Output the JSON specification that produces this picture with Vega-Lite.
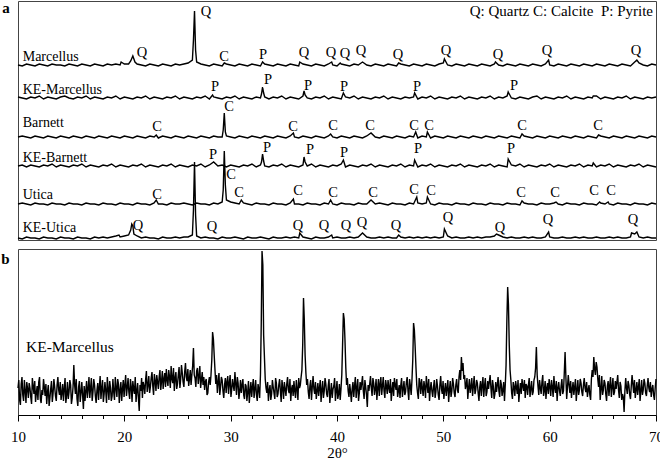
{
"$schema": "https://vega.github.io/schema/vega-lite/v6.json",
"padding": {"left": 0, "top": 0, "right": 0, "bottom": 0},
"spacing": 4,
"config": {"view": {"stroke": "#444", "strokeWidth": 1}, "font": "Liberation Serif, Times New Roman, DejaVu Serif, serif",
  "axis": {"labelOverlap": false, "labelFlush": false, "grid": false, "labelFont": "Liberation Serif, Times New Roman, DejaVu Serif, serif", "titleFont": "Liberation Serif, Times New Roman, DejaVu Serif, serif", "labelColor": "black", "titleColor": "black", "tickColor": "black", "domainColor": "black"}},
"datasets": {
"pa": [
{"x":10,"a":175,"b":143,"c":103,"d":74,"e":36,"f":2},
{"x":10.4,"a":174,"b":142,"c":104,"d":75,"e":37,"f":1},
{"x":10.8,"a":176,"b":141,"c":103,"d":73,"e":36,"f":3},
{"x":11.2,"a":175,"b":143,"c":102,"d":75,"e":35,"f":2},
{"x":11.6,"a":174,"b":142,"c":104,"d":74,"e":37,"f":2},
{"x":12,"a":176,"b":144,"c":103,"d":73,"e":36,"f":1},
{"x":12.4,"a":175,"b":141,"c":102,"d":75,"e":36,"f":3},
{"x":12.8,"a":174,"b":143,"c":104,"d":74,"e":35,"f":2},
{"x":13.2,"a":176,"b":142,"c":103,"d":76,"e":37,"f":2},
{"x":13.6,"a":175,"b":141,"c":102,"d":73,"e":36,"f":1},
{"x":14,"a":175,"b":143,"c":104,"d":75,"e":36,"f":3},
{"x":14.4,"a":174,"b":144,"c":103,"d":74,"e":35,"f":2},
{"x":14.8,"a":176,"b":142,"c":102,"d":73,"e":37,"f":2},
{"x":15.2,"a":175,"b":141,"c":104,"d":75,"e":36,"f":1},
{"x":15.6,"a":174,"b":143,"c":103,"d":74,"e":36,"f":3},
{"x":16,"a":176,"b":142,"c":102,"d":76,"e":35,"f":2},
{"x":16.4,"a":175,"b":144,"c":104,"d":73,"e":37,"f":2},
{"x":16.8,"a":174,"b":141,"c":103,"d":75,"e":36,"f":1},
{"x":17.2,"a":176,"b":143,"c":102,"d":74,"e":36,"f":3},
{"x":17.6,"a":175,"b":142,"c":104,"d":73,"e":35,"f":2},
{"x":18,"a":174,"b":141,"c":103,"d":75,"e":37,"f":3},
{"x":18.4,"a":176,"b":143,"c":102,"d":74,"e":36,"f":2},
{"x":18.8,"a":175,"b":142,"c":104,"d":76,"e":36,"f":3},
{"x":19.2,"a":176,"b":144,"c":103,"d":73,"e":35,"f":4},
{"x":19.6,"a":175,"b":141,"c":102,"d":75,"e":37,"f":3},
{"x":20,"a":176,"b":143,"c":104,"d":74,"e":36,"f":4},
{"x":20.4,"a":176,"b":142,"c":103,"d":73,"e":36,"f":5},
{"x":20.8,"a":184,"b":141,"c":102,"d":75,"e":35,"f":14},
{"x":21.2,"a":176,"b":143,"c":104,"d":74,"e":37,"f":4},
{"x":21.6,"a":175,"b":142,"c":103,"d":76,"e":36,"f":2},
{"x":22,"a":174,"b":144,"c":102,"d":73,"e":36,"f":3},
{"x":22.4,"a":176,"b":141,"c":104,"d":75,"e":35,"f":2},
{"x":22.8,"a":175,"b":143,"c":103,"d":74,"e":37,"f":2},
{"x":23.2,"a":174,"b":142,"c":102,"d":73,"e":36,"f":1},
{"x":23.6,"a":176,"b":141,"c":104,"d":75,"e":36,"f":3},
{"x":24,"a":175,"b":143,"c":103,"d":74,"e":35,"f":2},
{"x":24.4,"a":174,"b":142,"c":102,"d":76,"e":37,"f":2},
{"x":24.8,"a":176,"b":144,"c":104,"d":73,"e":36,"f":3},
{"x":25.2,"a":175,"b":141,"c":103,"d":75,"e":36,"f":2},
{"x":25.6,"a":176,"b":143,"c":102,"d":74,"e":37,"f":3},
{"x":26,"a":177,"b":142,"c":104,"d":73,"e":36,"f":3},
{"x":26.4,"a":180,"b":141,"c":103,"d":75,"e":35,"f":5},
{"x":26.8,"a":178,"b":143,"c":102,"d":74,"e":37,"f":4},
{"x":27.2,"a":176,"b":142,"c":104,"d":76,"e":36,"f":2},
{"x":27.6,"a":175,"b":144,"c":103,"d":73,"e":36,"f":3},
{"x":28,"a":174,"b":141,"c":102,"d":75,"e":35,"f":2},
{"x":28.4,"a":176,"b":143,"c":104,"d":78,"e":37,"f":2},
{"x":28.8,"a":175,"b":142,"c":103,"d":74,"e":36,"f":1},
{"x":29.2,"a":174,"b":141,"c":103,"d":75,"e":38,"f":3},
{"x":29.6,"a":176,"b":143,"c":104,"d":73,"e":40,"f":2},
{"x":30,"a":175,"b":142,"c":103,"d":75,"e":38,"f":2},
{"x":30.4,"a":174,"b":144,"c":102,"d":74,"e":37,"f":3},
{"x":30.8,"a":176,"b":141,"c":104,"d":73,"e":36,"f":2},
{"x":31.2,"a":175,"b":143,"c":103,"d":75,"e":37,"f":1},
{"x":31.6,"a":174,"b":142,"c":102,"d":74,"e":36,"f":3},
{"x":32,"a":176,"b":141,"c":104,"d":76,"e":35,"f":2},
{"x":32.4,"a":175,"b":143,"c":103,"d":73,"e":37,"f":2},
{"x":32.8,"a":174,"b":142,"c":102,"d":75,"e":36,"f":3},
{"x":33.2,"a":176,"b":143,"c":104,"d":74,"e":36,"f":2},
{"x":33.6,"a":175,"b":141,"c":103,"d":73,"e":35,"f":1},
{"x":34,"a":174,"b":143,"c":102,"d":75,"e":37,"f":3},
{"x":34.4,"a":176,"b":142,"c":104,"d":74,"e":36,"f":2},
{"x":34.8,"a":175,"b":144,"c":103,"d":76,"e":36,"f":2},
{"x":35.2,"a":174,"b":141,"c":102,"d":73,"e":35,"f":3},
{"x":35.6,"a":176,"b":143,"c":104,"d":75,"e":37,"f":2},
{"x":36,"a":175,"b":142,"c":103,"d":74,"e":36,"f":3},
{"x":36.4,"a":174,"b":141,"c":102,"d":73,"e":36,"f":2},
{"x":36.8,"a":176,"b":144,"c":104,"d":75,"e":35,"f":3},
{"x":37.2,"a":175,"b":142,"c":103,"d":74,"e":37,"f":2},
{"x":37.6,"a":174,"b":141,"c":102,"d":76,"e":36,"f":1},
{"x":38,"a":176,"b":143,"c":104,"d":73,"e":36,"f":3},
{"x":38.4,"a":175,"b":142,"c":103,"d":75,"e":35,"f":2},
{"x":38.8,"a":174,"b":144,"c":102,"d":74,"e":37,"f":2},
{"x":39.2,"a":176,"b":141,"c":104,"d":73,"e":36,"f":3},
{"x":39.6,"a":175,"b":143,"c":103,"d":75,"e":36,"f":2},
{"x":40,"a":174,"b":142,"c":102,"d":74,"e":35,"f":3},
{"x":40.4,"a":176,"b":141,"c":104,"d":76,"e":37,"f":2},
{"x":40.8,"a":175,"b":143,"c":103,"d":73,"e":36,"f":2},
{"x":41.2,"a":174,"b":142,"c":102,"d":75,"e":36,"f":3},
{"x":41.6,"a":176,"b":144,"c":104,"d":74,"e":35,"f":2},
{"x":42,"a":175,"b":141,"c":103,"d":73,"e":37,"f":3},
{"x":42.4,"a":178,"b":143,"c":102,"d":75,"e":36,"f":7},
{"x":42.8,"a":175,"b":142,"c":104,"d":74,"e":36,"f":3},
{"x":43.2,"a":174,"b":141,"c":107,"d":76,"e":40,"f":2},
{"x":43.6,"a":176,"b":143,"c":103,"d":73,"e":36,"f":2},
{"x":44,"a":175,"b":142,"c":102,"d":75,"e":37,"f":3},
{"x":44.4,"a":174,"b":144,"c":104,"d":74,"e":36,"f":2},
{"x":44.8,"a":176,"b":141,"c":103,"d":73,"e":35,"f":3},
{"x":45.2,"a":175,"b":143,"c":102,"d":75,"e":37,"f":2},
{"x":45.6,"a":174,"b":142,"c":104,"d":74,"e":36,"f":2},
{"x":46,"a":176,"b":141,"c":103,"d":76,"e":36,"f":3},
{"x":46.4,"a":175,"b":143,"c":102,"d":73,"e":35,"f":2},
{"x":46.8,"a":174,"b":142,"c":104,"d":75,"e":37,"f":3},
{"x":47.2,"a":176,"b":143,"c":103,"d":74,"e":36,"f":2},
{"x":47.6,"a":175,"b":141,"c":102,"d":73,"e":37,"f":3},
{"x":48,"a":174,"b":143,"c":104,"d":75,"e":36,"f":2},
{"x":48.4,"a":176,"b":142,"c":103,"d":74,"e":37,"f":3},
{"x":48.8,"a":175,"b":144,"c":102,"d":76,"e":36,"f":2},
{"x":49.2,"a":174,"b":141,"c":104,"d":73,"e":35,"f":3},
{"x":49.6,"a":176,"b":143,"c":103,"d":75,"e":37,"f":2},
{"x":50,"a":177,"b":142,"c":102,"d":74,"e":36,"f":3},
{"x":50.4,"a":175,"b":141,"c":104,"d":73,"e":36,"f":4},
{"x":50.8,"a":174,"b":143,"c":103,"d":75,"e":35,"f":2},
{"x":51.2,"a":176,"b":142,"c":102,"d":74,"e":37,"f":3},
{"x":51.6,"a":175,"b":144,"c":104,"d":76,"e":36,"f":2},
{"x":52,"a":174,"b":141,"c":103,"d":73,"e":36,"f":2},
{"x":52.4,"a":176,"b":143,"c":102,"d":75,"e":35,"f":3},
{"x":52.8,"a":175,"b":142,"c":104,"d":74,"e":37,"f":2},
{"x":53.2,"a":174,"b":141,"c":103,"d":73,"e":36,"f":3},
{"x":53.6,"a":176,"b":143,"c":102,"d":75,"e":36,"f":2},
{"x":54,"a":175,"b":142,"c":104,"d":74,"e":35,"f":3},
{"x":54.4,"a":174,"b":144,"c":103,"d":76,"e":37,"f":3},
{"x":54.8,"a":176,"b":141,"c":102,"d":73,"e":36,"f":4},
{"x":55.2,"a":175,"b":143,"c":104,"d":75,"e":36,"f":5},
{"x":55.6,"a":174,"b":142,"c":103,"d":74,"e":35,"f":3},
{"x":56,"a":176,"b":144,"c":102,"d":73,"e":37,"f":2},
{"x":56.4,"a":175,"b":142,"c":104,"d":75,"e":36,"f":3},
{"x":56.8,"a":174,"b":141,"c":103,"d":74,"e":36,"f":2},
{"x":57.2,"a":176,"b":143,"c":102,"d":76,"e":35,"f":2},
{"x":57.6,"a":175,"b":142,"c":104,"d":73,"e":37,"f":3},
{"x":58,"a":174,"b":141,"c":103,"d":75,"e":36,"f":2},
{"x":58.4,"a":176,"b":143,"c":102,"d":74,"e":36,"f":3},
{"x":58.8,"a":175,"b":144,"c":104,"d":73,"e":35,"f":2},
{"x":59.2,"a":174,"b":141,"c":103,"d":75,"e":37,"f":2},
{"x":59.6,"a":176,"b":143,"c":102,"d":74,"e":36,"f":3},
{"x":60,"a":175,"b":142,"c":104,"d":76,"e":36,"f":3},
{"x":60.4,"a":174,"b":141,"c":103,"d":73,"e":37,"f":2},
{"x":60.8,"a":176,"b":143,"c":102,"d":75,"e":36,"f":2},
{"x":61.2,"a":175,"b":142,"c":104,"d":74,"e":35,"f":3},
{"x":61.6,"a":174,"b":144,"c":103,"d":73,"e":37,"f":2},
{"x":62,"a":176,"b":141,"c":102,"d":75,"e":36,"f":2},
{"x":62.4,"a":175,"b":143,"c":104,"d":74,"e":36,"f":3},
{"x":62.8,"a":174,"b":142,"c":103,"d":76,"e":35,"f":2},
{"x":63.2,"a":176,"b":141,"c":102,"d":73,"e":37,"f":3},
{"x":63.6,"a":175,"b":143,"c":104,"d":75,"e":36,"f":2},
{"x":64,"a":174,"b":142,"c":103,"d":74,"e":36,"f":2},
{"x":64.4,"a":176,"b":144,"c":102,"d":73,"e":35,"f":3},
{"x":64.8,"a":175,"b":141,"c":104,"d":75,"e":37,"f":2},
{"x":65.2,"a":174,"b":143,"c":103,"d":74,"e":36,"f":2},
{"x":65.6,"a":176,"b":142,"c":102,"d":76,"e":36,"f":3},
{"x":66,"a":175,"b":141,"c":104,"d":73,"e":35,"f":2},
{"x":66.4,"a":174,"b":143,"c":103,"d":75,"e":37,"f":3},
{"x":66.8,"a":176,"b":142,"c":102,"d":74,"e":36,"f":2},
{"x":67.2,"a":175,"b":144,"c":104,"d":73,"e":36,"f":2},
{"x":67.6,"a":174,"b":141,"c":103,"d":75,"e":35,"f":3},
{"x":68,"a":178,"b":143,"c":102,"d":74,"e":37,"f":6},
{"x":68.4,"a":177,"b":142,"c":104,"d":76,"e":36,"f":3},
{"x":68.8,"a":175,"b":141,"c":103,"d":73,"e":36,"f":2},
{"x":69.2,"a":174,"b":143,"c":102,"d":75,"e":35,"f":3},
{"x":69.6,"a":176,"b":142,"c":104,"d":74,"e":37,"f":2},
{"x":70,"a":175,"b":143,"c":103,"d":73,"e":36,"f":2},
{"x":19.5,"f":5},
{"x":19.7,"a":178},
{"x":20.6,"a":179,"f":10},
{"x":20.7,"f":16},
{"x":20.9,"f":6},
{"x":21,"a":178},
{"x":23,"c":105,"e":40},
{"x":26.5,"a":200,"f":30},
{"x":26.6,"a":229,"f":78},
{"x":26.7,"a":190,"f":25},
{"x":28.3,"b":145},
{"x":29.3,"c":110,"e":50},
{"x":29.4,"a":177,"c":127,"e":89},
{"x":29.5,"c":108,"e":55},
{"x":31,"e":40},
{"x":32.9,"b":146,"d":78},
{"x":33,"a":178,"b":153,"d":86},
{"x":33.1,"b":147,"d":79},
{"x":35.9,"c":107,"e":41},
{"x":36.5,"a":178,"f":7},
{"x":36.9,"b":149,"d":83},
{"x":37,"b":145,"d":78},
{"x":39.4,"c":106,"e":40},
{"x":39.5,"a":178,"f":5},
{"x":40.3,"a":177},
{"x":40.6,"b":147,"d":80},
{"x":45.8,"a":177,"f":5},
{"x":47.3,"b":147,"d":80},
{"x":47.4,"c":108},
{"x":47.5,"e":43},
{"x":48.5,"c":108,"e":43},
{"x":50.1,"a":181,"f":11},
{"x":54.9,"a":178},
{"x":55,"f":6},
{"x":56.1,"b":148,"d":81},
{"x":57.4,"c":106,"e":39},
{"x":59.9,"a":180,"f":8},
{"x":60.6,"e":38},
{"x":64.1,"b":144,"d":77},
{"x":64.6,"c":105},
{"x":64.7,"e":38},
{"x":65.5,"e":38},
{"x":67.7,"f":7},
{"x":68.2,"a":180,"f":8}
],
"pl": [
{"x":21.66,"y":187,"t":"Q"},{"x":27.68,"y":228,"t":"Q"},{"x":29.37,"y":183,"t":"C"},{"x":33.04,"y":185,"t":"P"},{"x":36.9,"y":187,"t":"Q"},{"x":39.44,"y":187,"t":"Q"},{"x":40.75,"y":186,"t":"Q"},{"x":42.26,"y":189,"t":"Q"},{"x":45.74,"y":185,"t":"Q"},{"x":50.25,"y":189,"t":"Q"},{"x":55.14,"y":185,"t":"Q"},{"x":59.75,"y":189,"t":"Q"},{"x":68.12,"y":189,"t":"Q"},
{"x":28.53,"y":153,"t":"P"},{"x":33.51,"y":160,"t":"P"},{"x":37.27,"y":154,"t":"P"},{"x":40.66,"y":153,"t":"P"},{"x":47.52,"y":153,"t":"P"},{"x":56.65,"y":154,"t":"P"},
{"x":23.07,"y":113,"t":"C"},{"x":29.84,"y":133,"t":"C"},{"x":35.86,"y":113,"t":"C"},{"x":39.62,"y":114,"t":"C"},{"x":43.1,"y":114,"t":"C"},{"x":47.24,"y":114,"t":"C"},{"x":48.65,"y":114,"t":"C"},{"x":57.4,"y":114,"t":"C"},{"x":64.55,"y":114,"t":"C"},
{"x":28.34,"y":85,"t":"P"},{"x":33.42,"y":92,"t":"P"},{"x":37.46,"y":90,"t":"P"},{"x":40.66,"y":87,"t":"P"},{"x":47.62,"y":91,"t":"P"},{"x":56.36,"y":91,"t":"P"},
{"x":23.07,"y":45,"t":"C"},{"x":30.03,"y":65,"t":"C"},{"x":30.78,"y":47,"t":"C"},{"x":36.33,"y":49,"t":"C"},{"x":39.62,"y":47,"t":"C"},{"x":43.39,"y":47,"t":"C"},{"x":47.24,"y":50,"t":"C"},{"x":48.84,"y":49,"t":"C"},{"x":57.3,"y":47,"t":"C"},{"x":60.5,"y":47,"t":"C"},{"x":64.17,"y":49,"t":"C"},{"x":65.77,"y":49,"t":"C"},
{"x":21.29,"y":14,"t":"Q"},{"x":28.24,"y":13,"t":"Q"},{"x":36.33,"y":14,"t":"Q"},{"x":38.78,"y":14,"t":"Q"},{"x":40.85,"y":14,"t":"Q"},{"x":42.35,"y":17,"t":"Q"},{"x":45.55,"y":14,"t":"Q"},{"x":50.44,"y":22,"t":"Q"},{"x":55.33,"y":12,"t":"Q"},{"x":59.84,"y":20,"t":"Q"},{"x":67.84,"y":20,"t":"Q"}
],
"nm": [
{"x":10.44,"y":183,"t":"Marcellus"},{"x":10.44,"y":150,"t":"KE-Marcellus"},{"x":10.44,"y":117,"t":"Barnett"},{"x":10.44,"y":82,"t":"KE-Barnett"},{"x":10.44,"y":45,"t":"Utica"},{"x":10.44,"y":12,"t":"KE-Utica"}
],
"pb": [
{"x":10,"y":27},{"x":10.15,"y":15},{"x":10.3,"y":31},{"x":10.45,"y":20},{"x":10.6,"y":35},{"x":10.75,"y":12},{"x":10.9,"y":26},{"x":11.05,"y":32},{"x":11.2,"y":18},{"x":11.35,"y":37},{"x":11.5,"y":21},{"x":11.65,"y":13},{"x":11.8,"y":29},{"x":11.95,"y":33},{"x":12.1,"y":16},{"x":12.25,"y":25},{"x":12.4,"y":36},{"x":12.55,"y":19},{"x":12.7,"y":11},{"x":12.85,"y":30},
{"x":13,"y":17},{"x":13.15,"y":34},{"x":13.3,"y":22},{"x":13.45,"y":28},{"x":13.6,"y":14},{"x":13.75,"y":38},{"x":13.9,"y":20},{"x":14.05,"y":15},{"x":14.2,"y":31},{"x":14.35,"y":26},{"x":14.5,"y":12},{"x":14.65,"y":33},{"x":14.8,"y":23},{"x":14.95,"y":30},{"x":15.1,"y":17},{"x":15.25,"y":50},{"x":15.4,"y":21},{"x":15.55,"y":16},{"x":15.7,"y":28},{"x":15.85,"y":13},
{"x":16,"y":33},{"x":16.15,"y":6},{"x":16.3,"y":14},{"x":16.45,"y":34},{"x":16.6,"y":26},{"x":16.75,"y":17},{"x":16.9,"y":37},{"x":17.05,"y":23},{"x":17.2,"y":30},{"x":17.35,"y":12},{"x":17.5,"y":32},{"x":17.65,"y":28},{"x":17.8,"y":16},{"x":17.95,"y":35},{"x":18.1,"y":21},{"x":18.25,"y":24},{"x":18.4,"y":38},{"x":18.55,"y":15},{"x":18.7,"y":27},{"x":18.85,"y":19},
{"x":19,"y":23},{"x":19.15,"y":38},{"x":19.3,"y":18},{"x":19.45,"y":31},{"x":19.6,"y":25},{"x":19.75,"y":14},{"x":19.9,"y":35},{"x":20.05,"y":30},{"x":20.2,"y":19},{"x":20.35,"y":37},{"x":20.5,"y":16},{"x":20.65,"y":28},{"x":20.8,"y":34},{"x":20.95,"y":21},{"x":21.1,"y":13},{"x":21.25,"y":32},{"x":21.4,"y":4},{"x":21.55,"y":24},{"x":21.7,"y":17},{"x":21.85,"y":29},
{"x":22,"y":35},{"x":22.15,"y":23},{"x":22.3,"y":39},{"x":22.45,"y":28},{"x":22.6,"y":43},{"x":22.75,"y":20},{"x":22.9,"y":34},{"x":23.05,"y":40},{"x":23.2,"y":26},{"x":23.35,"y":45},{"x":23.5,"y":34},{"x":23.65,"y":26},{"x":23.8,"y":42},{"x":23.95,"y":46},{"x":24.1,"y":29},{"x":24.25,"y":38},{"x":24.4,"y":49},{"x":24.55,"y":32},{"x":24.7,"y":24},{"x":24.85,"y":43},
{"x":25,"y":31},{"x":25.15,"y":48},{"x":25.3,"y":36},{"x":25.45,"y":42},{"x":25.6,"y":28},{"x":25.75,"y":52},{"x":25.9,"y":34},{"x":26.05,"y":29},{"x":26.2,"y":45},{"x":26.35,"y":40},{"x":26.5,"y":67},{"x":26.65,"y":37},{"x":26.8,"y":44},{"x":26.95,"y":31},{"x":27.1,"y":49},{"x":27.25,"y":35},{"x":27.4,"y":30},{"x":27.55,"y":25},{"x":27.7,"y":36},{"x":27.85,"y":22},
{"x":28,"y":38},{"x":28.15,"y":40},{"x":28.3,"y":83},{"x":28.45,"y":60},{"x":28.6,"y":31},{"x":28.75,"y":22},{"x":28.9,"y":42},{"x":29.05,"y":28},{"x":29.2,"y":35},{"x":29.35,"y":17},{"x":29.5,"y":37},{"x":29.65,"y":33},{"x":29.8,"y":21},{"x":29.95,"y":40},{"x":30.1,"y":26},{"x":30.25,"y":29},{"x":30.4,"y":43},{"x":30.55,"y":20},{"x":30.7,"y":32},{"x":30.85,"y":24},
{"x":31,"y":22},{"x":31.15,"y":36},{"x":31.3,"y":16},{"x":31.45,"y":29},{"x":31.6,"y":23},{"x":31.75,"y":12},{"x":31.9,"y":33},{"x":32.05,"y":28},{"x":32.2,"y":17},{"x":32.35,"y":35},{"x":32.5,"y":14},{"x":32.65,"y":26},{"x":32.8,"y":40},{"x":32.95,"y":164},{"x":33.1,"y":80},{"x":33.25,"y":36},{"x":33.4,"y":22},{"x":33.55,"y":14},{"x":33.7,"y":30},{"x":33.85,"y":21},
{"x":34,"y":28},{"x":34.15,"y":16},{"x":34.3,"y":32},{"x":34.45,"y":21},{"x":34.6,"y":36},{"x":34.75,"y":13},{"x":34.9,"y":27},{"x":35.05,"y":33},{"x":35.2,"y":19},{"x":35.35,"y":38},{"x":35.5,"y":22},{"x":35.65,"y":14},{"x":35.8,"y":30},{"x":35.95,"y":34},{"x":36.1,"y":17},{"x":36.25,"y":26},{"x":36.4,"y":37},{"x":36.55,"y":30},{"x":36.7,"y":45},{"x":36.85,"y":117},
{"x":37,"y":60},{"x":37.15,"y":30},{"x":37.3,"y":23},{"x":37.45,"y":29},{"x":37.6,"y":15},{"x":37.75,"y":39},{"x":37.9,"y":21},{"x":38.05,"y":16},{"x":38.2,"y":32},{"x":38.35,"y":27},{"x":38.5,"y":13},{"x":38.65,"y":34},{"x":38.8,"y":24},{"x":38.95,"y":31},{"x":39.1,"y":18},{"x":39.25,"y":36},{"x":39.4,"y":22},{"x":39.55,"y":17},{"x":39.7,"y":29},{"x":39.85,"y":14},
{"x":40,"y":34},{"x":40.15,"y":21},{"x":40.3,"y":15},{"x":40.45,"y":40},{"x":40.6,"y":102},{"x":40.75,"y":75},{"x":40.9,"y":30},{"x":41.05,"y":24},{"x":41.2,"y":31},{"x":41.35,"y":13},{"x":41.5,"y":33},{"x":41.65,"y":29},{"x":41.8,"y":17},{"x":41.95,"y":36},{"x":42.1,"y":22},{"x":42.25,"y":25},{"x":42.4,"y":39},{"x":42.55,"y":16},{"x":42.7,"y":28},{"x":42.85,"y":8},
{"x":43,"y":24},{"x":43.15,"y":39},{"x":43.3,"y":19},{"x":43.45,"y":32},{"x":43.6,"y":26},{"x":43.75,"y":15},{"x":43.9,"y":36},{"x":44.05,"y":31},{"x":44.2,"y":20},{"x":44.35,"y":38},{"x":44.5,"y":17},{"x":44.65,"y":29},{"x":44.8,"y":35},{"x":44.95,"y":22},{"x":45.1,"y":14},{"x":45.25,"y":33},{"x":45.4,"y":37},{"x":45.55,"y":25},{"x":45.7,"y":18},{"x":45.85,"y":30},
{"x":46,"y":30},{"x":46.15,"y":18},{"x":46.3,"y":34},{"x":46.45,"y":23},{"x":46.6,"y":38},{"x":46.75,"y":15},{"x":46.9,"y":29},{"x":47.05,"y":35},{"x":47.2,"y":92},{"x":47.35,"y":68},{"x":47.5,"y":30},{"x":47.65,"y":16},{"x":47.8,"y":32},{"x":47.95,"y":36},{"x":48.1,"y":19},{"x":48.25,"y":28},{"x":48.4,"y":39},{"x":48.55,"y":22},{"x":48.7,"y":14},{"x":48.85,"y":33},
{"x":49,"y":18},{"x":49.15,"y":35},{"x":49.3,"y":23},{"x":49.45,"y":29},{"x":49.6,"y":15},{"x":49.75,"y":39},{"x":49.9,"y":21},{"x":50.05,"y":16},{"x":50.2,"y":32},{"x":50.35,"y":27},{"x":50.5,"y":13},{"x":50.65,"y":34},{"x":50.8,"y":24},{"x":50.95,"y":31},{"x":51.1,"y":18},{"x":51.25,"y":36},{"x":51.4,"y":22},{"x":51.55,"y":45},{"x":51.7,"y":58},{"x":51.85,"y":52},
{"x":52,"y":40},{"x":52.15,"y":30},{"x":52.3,"y":16},{"x":52.45,"y":36},{"x":52.6,"y":28},{"x":52.75,"y":19},{"x":52.9,"y":39},{"x":53.05,"y":25},{"x":53.2,"y":32},{"x":53.35,"y":14},{"x":53.5,"y":34},{"x":53.65,"y":30},{"x":53.8,"y":18},{"x":53.95,"y":37},{"x":54.1,"y":23},{"x":54.25,"y":26},{"x":54.4,"y":40},{"x":54.55,"y":17},{"x":54.7,"y":29},{"x":54.85,"y":21},
{"x":55,"y":23},{"x":55.15,"y":38},{"x":55.3,"y":18},{"x":55.45,"y":31},{"x":55.6,"y":25},{"x":55.75,"y":14},{"x":55.9,"y":50},{"x":56.05,"y":128},{"x":56.2,"y":70},{"x":56.35,"y":35},{"x":56.5,"y":16},{"x":56.65,"y":28},{"x":56.8,"y":34},{"x":56.95,"y":21},{"x":57.1,"y":13},{"x":57.25,"y":32},{"x":57.4,"y":36},{"x":57.55,"y":24},{"x":57.7,"y":17},{"x":57.85,"y":29},
{"x":58,"y":30},{"x":58.15,"y":18},{"x":58.3,"y":34},{"x":58.45,"y":23},{"x":58.6,"y":38},{"x":58.75,"y":68},{"x":58.9,"y":29},{"x":59.05,"y":35},{"x":59.2,"y":21},{"x":59.35,"y":40},{"x":59.5,"y":24},{"x":59.65,"y":16},{"x":59.8,"y":32},{"x":59.95,"y":36},{"x":60.1,"y":19},{"x":60.25,"y":28},{"x":60.4,"y":39},{"x":60.55,"y":22},{"x":60.7,"y":14},{"x":60.85,"y":33},
{"x":61,"y":19},{"x":61.15,"y":36},{"x":61.3,"y":24},{"x":61.45,"y":63},{"x":61.6,"y":16},{"x":61.75,"y":40},{"x":61.9,"y":22},{"x":62.05,"y":17},{"x":62.2,"y":33},{"x":62.35,"y":28},{"x":62.5,"y":14},{"x":62.65,"y":35},{"x":62.8,"y":25},{"x":62.95,"y":32},{"x":63.1,"y":19},{"x":63.25,"y":37},{"x":63.4,"y":23},{"x":63.55,"y":18},{"x":63.7,"y":30},{"x":63.85,"y":15},
{"x":64,"y":45},{"x":64.15,"y":58},{"x":64.3,"y":40},{"x":64.45,"y":48},{"x":64.6,"y":28},{"x":64.75,"y":15},{"x":64.9,"y":39},{"x":65.05,"y":25},{"x":65.2,"y":32},{"x":65.35,"y":14},{"x":65.5,"y":34},{"x":65.65,"y":30},{"x":65.8,"y":18},{"x":65.95,"y":37},{"x":66.1,"y":23},{"x":66.25,"y":26},{"x":66.4,"y":40},{"x":66.55,"y":17},{"x":66.7,"y":29},{"x":66.85,"y":21},
{"x":67,"y":3},{"x":67.15,"y":37},{"x":67.3,"y":21},{"x":67.45,"y":30},{"x":67.6,"y":16},{"x":67.75,"y":40},{"x":67.9,"y":22},{"x":68.05,"y":17},{"x":68.2,"y":33},{"x":68.35,"y":28},{"x":68.5,"y":14},{"x":68.65,"y":35},{"x":68.8,"y":25},{"x":68.95,"y":32},{"x":69.1,"y":19},{"x":69.25,"y":37},{"x":69.4,"y":23},{"x":69.55,"y":18},{"x":69.7,"y":30},{"x":69.85,"y":15},{"x":70,"y":36},
{"x":10.075,"y":35},{"x":10.225,"y":10},{"x":10.375,"y":38},{"x":10.525,"y":14},{"x":10.675,"y":24},{"x":10.825,"y":33},{"x":10.975,"y":17},{"x":11.125,"y":27},{"x":11.275,"y":11},{"x":11.425,"y":29},{"x":11.575,"y":34},{"x":11.725,"y":22},{"x":11.875,"y":15},{"x":12.025,"y":38},{"x":12.175,"y":12},{"x":12.325,"y":20},{"x":12.475,"y":28},{"x":12.625,"y":31},{"x":12.775,"y":23},{"x":12.925,"y":9},
{"x":13.075,"y":26},{"x":13.225,"y":13},{"x":13.375,"y":36},{"x":13.525,"y":19},{"x":13.675,"y":30},{"x":13.825,"y":25},{"x":13.975,"y":33},{"x":14.125,"y":22},{"x":14.275,"y":14},{"x":14.425,"y":37},{"x":14.575,"y":20},{"x":14.725,"y":16},{"x":14.875,"y":35},{"x":15.025,"y":11},{"x":15.175,"y":28},{"x":15.325,"y":30},{"x":15.475,"y":36},{"x":15.625,"y":9},{"x":15.775,"y":34},{"x":15.925,"y":22},
{"x":16.075,"y":20},{"x":16.225,"y":29},{"x":16.375,"y":24},{"x":16.525,"y":17},{"x":16.675,"y":38},{"x":16.825,"y":27},{"x":16.975,"y":14},{"x":17.125,"y":36},{"x":17.275,"y":19},{"x":17.425,"y":25},{"x":17.575,"y":15},{"x":17.725,"y":39},{"x":17.875,"y":27},{"x":18.025,"y":13},{"x":18.175,"y":33},{"x":18.325,"y":12},{"x":18.475,"y":26},{"x":18.625,"y":34},{"x":18.775,"y":14},{"x":18.925,"y":36},
{"x":19.075,"y":15},{"x":19.225,"y":27},{"x":19.375,"y":36},{"x":19.525,"y":12},{"x":19.675,"y":33},{"x":19.825,"y":26},{"x":19.975,"y":18},{"x":20.125,"y":40},{"x":20.275,"y":27},{"x":20.425,"y":23},{"x":20.575,"y":36},{"x":20.725,"y":13},{"x":20.875,"y":26},{"x":21.025,"y":38},{"x":21.175,"y":24},{"x":21.325,"y":17},{"x":21.475,"y":30},{"x":21.625,"y":37},{"x":21.775,"y":33},{"x":21.925,"y":21},
{"x":22.075,"y":44},{"x":22.225,"y":30},{"x":22.375,"y":22},{"x":22.525,"y":37},{"x":22.675,"y":29},{"x":22.825,"y":41},{"x":22.975,"y":24},{"x":23.125,"y":33},{"x":23.275,"y":38},{"x":23.425,"y":25},{"x":23.575,"y":44},{"x":23.725,"y":36},{"x":23.875,"y":28},{"x":24.025,"y":35},{"x":24.175,"y":45},{"x":24.325,"y":27},{"x":24.475,"y":36},{"x":24.625,"y":47},{"x":24.775,"y":37},{"x":24.925,"y":26},
{"x":25.075,"y":40},{"x":25.225,"y":27},{"x":25.375,"y":50},{"x":25.525,"y":33},{"x":25.675,"y":43},{"x":25.825,"y":38},{"x":25.975,"y":46},{"x":26.125,"y":36},{"x":26.275,"y":30},{"x":26.425,"y":49},{"x":26.575,"y":40},{"x":26.725,"y":28},{"x":26.875,"y":47},{"x":27.025,"y":39},{"x":27.175,"y":27},{"x":27.325,"y":43},{"x":27.475,"y":38},{"x":27.625,"y":33},{"x":27.775,"y":20},{"x":27.925,"y":33},
{"x":28.075,"y":30},{"x":28.225,"y":55},{"x":28.375,"y":76},{"x":28.525,"y":45},{"x":28.675,"y":40},{"x":28.825,"y":33},{"x":28.975,"y":20},{"x":29.125,"y":38},{"x":29.275,"y":24},{"x":29.425,"y":30},{"x":29.575,"y":22},{"x":29.725,"y":39},{"x":29.875,"y":32},{"x":30.025,"y":18},{"x":30.175,"y":36},{"x":30.325,"y":24},{"x":30.475,"y":31},{"x":30.625,"y":38},{"x":30.775,"y":16},{"x":30.925,"y":35},
{"x":31.075,"y":30},{"x":31.225,"y":20},{"x":31.375,"y":31},{"x":31.525,"y":14},{"x":31.675,"y":34},{"x":31.825,"y":24},{"x":31.975,"y":18},{"x":32.125,"y":36},{"x":32.275,"y":26},{"x":32.425,"y":20},{"x":32.575,"y":31},{"x":32.725,"y":17},{"x":32.875,"y":90},{"x":33.025,"y":150},{"x":33.175,"y":58},{"x":33.325,"y":27},{"x":33.475,"y":33},{"x":33.625,"y":25},{"x":33.775,"y":15},{"x":33.925,"y":35},
{"x":34.075,"y":22},{"x":34.225,"y":37},{"x":34.375,"y":18},{"x":34.525,"y":30},{"x":34.675,"y":24},{"x":34.825,"y":35},{"x":34.975,"y":16},{"x":35.125,"y":26},{"x":35.275,"y":31},{"x":35.425,"y":25},{"x":35.575,"y":36},{"x":35.725,"y":26},{"x":35.875,"y":19},{"x":36.025,"y":24},{"x":36.175,"y":35},{"x":36.325,"y":15},{"x":36.475,"y":27},{"x":36.625,"y":38},{"x":36.775,"y":70},{"x":36.925,"y":95},
{"x":37.075,"y":42},{"x":37.225,"y":36},{"x":37.375,"y":16},{"x":37.525,"y":35},{"x":37.675,"y":28},{"x":37.825,"y":26},{"x":37.975,"y":33},{"x":38.125,"y":24},{"x":38.275,"y":19},{"x":38.425,"y":35},{"x":38.575,"y":25},{"x":38.725,"y":17},{"x":38.875,"y":37},{"x":39.025,"y":21},{"x":39.175,"y":29},{"x":39.325,"y":12},{"x":39.475,"y":32},{"x":39.625,"y":26},{"x":39.775,"y":37},{"x":39.925,"y":24},
{"x":40.075,"y":16},{"x":40.225,"y":31},{"x":40.375,"y":26},{"x":40.525,"y":70},{"x":40.675,"y":96},{"x":40.825,"y":48},{"x":40.975,"y":37},{"x":41.125,"y":18},{"x":41.275,"y":23},{"x":41.425,"y":26},{"x":41.575,"y":18},{"x":41.725,"y":38},{"x":41.875,"y":27},{"x":42.025,"y":14},{"x":42.175,"y":33},{"x":42.325,"y":32},{"x":42.475,"y":24},{"x":42.625,"y":35},{"x":42.775,"y":20},{"x":42.925,"y":30},
{"x":43.075,"y":31},{"x":43.225,"y":27},{"x":43.375,"y":37},{"x":43.525,"y":20},{"x":43.675,"y":36},{"x":43.825,"y":27},{"x":43.975,"y":19},{"x":44.125,"y":38},{"x":44.275,"y":29},{"x":44.425,"y":24},{"x":44.575,"y":35},{"x":44.725,"y":21},{"x":44.875,"y":27},{"x":45.025,"y":36},{"x":45.175,"y":25},{"x":45.325,"y":19},{"x":45.475,"y":30},{"x":45.625,"y":36},{"x":45.775,"y":24},{"x":45.925,"y":17},
{"x":46.075,"y":37},{"x":46.225,"y":26},{"x":46.375,"y":20},{"x":46.525,"y":33},{"x":46.675,"y":24},{"x":46.825,"y":36},{"x":46.975,"y":20},{"x":47.125,"y":55},{"x":47.275,"y":85},{"x":47.425,"y":48},{"x":47.575,"y":22},{"x":47.725,"y":37},{"x":47.875,"y":21},{"x":48.025,"y":27},{"x":48.175,"y":34},{"x":48.325,"y":17},{"x":48.475,"y":30},{"x":48.625,"y":36},{"x":48.775,"y":26},{"x":48.925,"y":24},
{"x":49.075,"y":28},{"x":49.225,"y":17},{"x":49.375,"y":36},{"x":49.525,"y":20},{"x":49.675,"y":30},{"x":49.825,"y":26},{"x":49.975,"y":34},{"x":50.125,"y":25},{"x":50.275,"y":19},{"x":50.425,"y":35},{"x":50.575,"y":25},{"x":50.725,"y":18},{"x":50.875,"y":37},{"x":51.025,"y":22},{"x":51.175,"y":30},{"x":51.325,"y":25},{"x":51.475,"y":38},{"x":51.625,"y":35},{"x":51.775,"y":44},{"x":51.925,"y":36},
{"x":52.075,"y":26},{"x":52.225,"y":37},{"x":52.375,"y":27},{"x":52.525,"y":22},{"x":52.675,"y":37},{"x":52.825,"y":29},{"x":52.975,"y":21},{"x":53.125,"y":35},{"x":53.275,"y":22},{"x":53.425,"y":28},{"x":53.575,"y":19},{"x":53.725,"y":38},{"x":53.875,"y":29},{"x":54.025,"y":19},{"x":54.175,"y":34},{"x":54.325,"y":33},{"x":54.475,"y":27},{"x":54.625,"y":35},{"x":54.775,"y":16},{"x":54.925,"y":33},
{"x":55.075,"y":30},{"x":55.225,"y":24},{"x":55.375,"y":35},{"x":55.525,"y":19},{"x":55.675,"y":33},{"x":55.825,"y":30},{"x":55.975,"y":95},{"x":56.125,"y":110},{"x":56.275,"y":45},{"x":56.425,"y":22},{"x":56.575,"y":33},{"x":56.725,"y":19},{"x":56.875,"y":28},{"x":57.025,"y":35},{"x":57.175,"y":24},{"x":57.325,"y":21},{"x":57.475,"y":29},{"x":57.625,"y":35},{"x":57.775,"y":31},{"x":57.925,"y":20},
{"x":58.075,"y":37},{"x":58.225,"y":26},{"x":58.375,"y":20},{"x":58.525,"y":35},{"x":58.675,"y":47},{"x":58.825,"y":40},{"x":58.975,"y":20},{"x":59.125,"y":27},{"x":59.275,"y":33},{"x":59.425,"y":19},{"x":59.575,"y":34},{"x":59.725,"y":27},{"x":59.875,"y":21},{"x":60.025,"y":28},{"x":60.175,"y":35},{"x":60.325,"y":18},{"x":60.475,"y":27},{"x":60.625,"y":34},{"x":60.775,"y":27},{"x":60.925,"y":24},
{"x":61.075,"y":29},{"x":61.225,"y":21},{"x":61.375,"y":42},{"x":61.525,"y":38},{"x":61.675,"y":28},{"x":61.825,"y":30},{"x":61.975,"y":34},{"x":62.125,"y":26},{"x":62.275,"y":20},{"x":62.425,"y":36},{"x":62.575,"y":25},{"x":62.725,"y":20},{"x":62.875,"y":36},{"x":63.025,"y":23},{"x":63.175,"y":30},{"x":63.325,"y":27},{"x":63.475,"y":33},{"x":63.625,"y":25},{"x":63.775,"y":20},{"x":63.925,"y":36},
{"x":64.075,"y":38},{"x":64.225,"y":46},{"x":64.375,"y":53},{"x":64.525,"y":36},{"x":64.675,"y":40},{"x":64.825,"y":26},{"x":64.975,"y":20},{"x":65.125,"y":35},{"x":65.275,"y":21},{"x":65.425,"y":29},{"x":65.575,"y":19},{"x":65.725,"y":38},{"x":65.875,"y":28},{"x":66.025,"y":20},{"x":66.175,"y":34},{"x":66.325,"y":33},{"x":66.475,"y":25},{"x":66.625,"y":33},{"x":66.775,"y":15},{"x":66.925,"y":18},
{"x":67.075,"y":24},{"x":67.225,"y":27},{"x":67.375,"y":34},{"x":67.525,"y":20},{"x":67.675,"y":29},{"x":67.825,"y":31},{"x":67.975,"y":35},{"x":68.125,"y":25},{"x":68.275,"y":20},{"x":68.425,"y":36},{"x":68.575,"y":24},{"x":68.725,"y":20},{"x":68.875,"y":36},{"x":69.025,"y":22},{"x":69.175,"y":29},{"x":69.325,"y":27},{"x":69.475,"y":33},{"x":69.625,"y":26},{"x":69.775,"y":20},{"x":69.925,"y":27}
]
},
"vconcat": [
{
"width": 638, "height": 239,
"resolve": {"axis": {"x": "independent", "y": "independent"}},
"layer": [
{"data": {"name": "pa"},
 "transform": [{"fold": ["a","b","c","d","e","f"], "as": ["s","v"]}, {"filter": "isValid(datum.v)"}],
 "mark": {"type": "line", "color": "black", "strokeWidth": 1.4},
 "encoding": {
  "x": {"field": "x", "type": "quantitative", "scale": {"domain": [10,70], "nice": false, "zero": false}, "axis": null},
  "y": {"field": "v", "type": "quantitative", "scale": {"domain": [0,239], "nice": false, "zero": false}, "axis": null},
  "detail": {"field": "s"}}},
{"data": {"name": "pl"},
 "mark": {"type": "text", "font": "Liberation Serif, Times New Roman, DejaVu Serif, serif", "fontSize": 14.5, "baseline": "middle", "align": "center", "color": "black"},
 "encoding": {"x": {"field": "x", "type": "quantitative", "axis": null}, "y": {"field": "y", "type": "quantitative", "axis": null}, "text": {"field": "t"}}},
{"data": {"name": "nm"},
 "mark": {"type": "text", "font": "Liberation Serif, Times New Roman, DejaVu Serif, serif", "fontSize": 14, "baseline": "middle", "align": "left", "color": "black"},
 "encoding": {"x": {"field": "x", "type": "quantitative", "axis": null}, "y": {"field": "y", "type": "quantitative", "axis": null}, "text": {"field": "t"}}},
{"data": {"values": [{"t": "Q: Quartz C: Calcite\u00a0 P: Pyrite"}]},
 "mark": {"type": "text", "font": "Liberation Serif, Times New Roman, DejaVu Serif, serif", "fontSize": 15, "baseline": "middle", "align": "right", "dx": -3, "color": "black"},
 "encoding": {"x": {"datum": 70, "axis": null}, "y": {"datum": 229, "axis": null}, "text": {"field": "t"}}},
{"data": {"values": [{"t": "a"}]},
 "mark": {"type": "text", "font": "Liberation Serif, Times New Roman, DejaVu Serif, serif", "fontSize": 15, "fontWeight": "bold", "baseline": "top", "align": "center", "dx": -12, "color": "black"},
 "encoding": {"x": {"datum": 10, "axis": null}, "y": {"datum": 239, "axis": null}, "text": {"field": "t"}}}
]
},
{
"width": 638, "height": 166,
"resolve": {"axis": {"x": "independent", "y": "independent"}},
"layer": [
{"data": {"name": "pb"},
 "mark": {"type": "line", "color": "black", "strokeWidth": 1.4},
 "encoding": {
  "x": {"field": "x", "type": "quantitative", "title": "2θ°",
        "scale": {"domain": [10,70], "nice": false, "zero": false},
        "axis": {"values": [10,12,14,16,18,20,22,24,26,28,30,32,34,36,38,40,42,44,46,48,50,52,54,56,58,60,62,64,66,68,70],
                 "labelExpr": "datum.value % 10 === 0 ? datum.label : ''",
                 "tickSize": {"condition": {"test": "datum.value % 10 === 0", "value": 6}, "value": 3.5},
                 "labelFontSize": 15, "labelPadding": 8, "labelOverlap": false, "labelFlush": false,
                 "titleFontSize": 15, "titleFontWeight": "normal", "titlePadding": 1}},
  "y": {"field": "y", "type": "quantitative", "scale": {"domain": [0,166], "nice": false, "zero": false}, "axis": null}}},
{"data": {"values": [{"t": "KE-Marcellus"}]},
 "mark": {"type": "text", "font": "Liberation Serif, Times New Roman, DejaVu Serif, serif", "fontSize": 15.5, "baseline": "middle", "align": "left", "color": "black"},
 "encoding": {"x": {"datum": 10.75, "axis": null}, "y": {"datum": 68, "axis": null}, "text": {"field": "t"}}},
{"data": {"values": [{"t": "b"}]},
 "mark": {"type": "text", "font": "Liberation Serif, Times New Roman, DejaVu Serif, serif", "fontSize": 15, "fontWeight": "bold", "baseline": "middle", "align": "center", "dx": -12.5, "color": "black"},
 "encoding": {"x": {"datum": 10, "axis": null}, "y": {"datum": 156, "axis": null}, "text": {"field": "t"}}}
]
}
]
}
